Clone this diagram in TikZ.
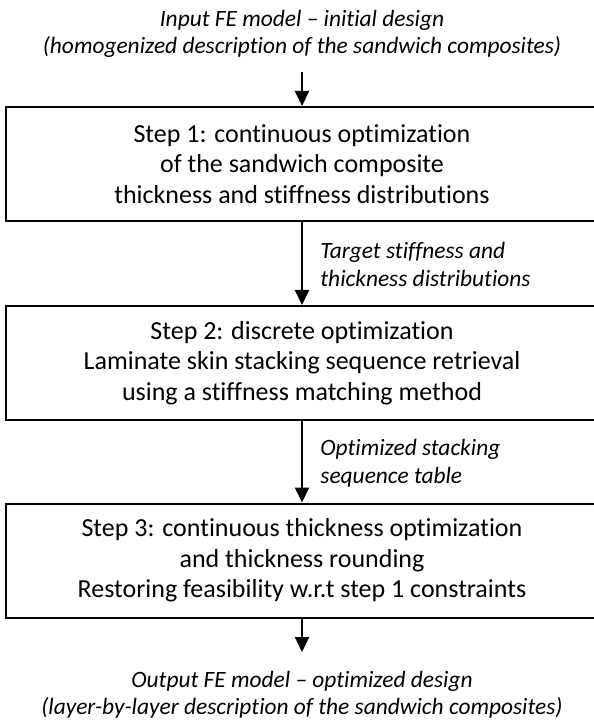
\documentclass[tikz,border=0pt]{standalone}
\usepackage{fontspec}
\setmainfont{Carlito}[Ligatures={TeX,NoCommon}]
\usetikzlibrary{arrows.meta}

\begin{document}
\begin{tikzpicture}[x=0.5pt, y=-0.5pt,
    stepbox/.style={draw, line width=1pt, minimum width=296pt, minimum height=57pt,
        align=center, inner sep=0pt, font=\fontsize{13}{15.2}\selectfont},
    note/.style={align=center, inner sep=0pt, font=\fontsize{11.7}{13.5}\selectfont\itshape},
    remark/.style={align=left, anchor=west, inner sep=0pt, font=\fontsize{11.7}{14}\selectfont\itshape},
    flow/.style={line width=1pt, -{Triangle[width=7pt,length=7.5pt]}}]

    % 1. Page frame
    \useasboundingbox (0,0) rectangle (593,726);

    % 2. Input and output descriptions
    \node[note] (input)  at (302,33.5) {Input FE model -- initial design\\(homogenized description of the sandwich composites)};
    \node[note] (output) at (302,695)  {Output FE model -- optimized design\\(layer-by-layer description of the sandwich composites)};

    % 3. Optimization steps
    \node[stepbox] (step1) at (302,164)   {Step 1: continuous optimization\\of the sandwich composite\\thickness and stiffness distributions};
    \node[stepbox] (step2) at (302,363)   {Step 2: discrete optimization\\Laminate skin stacking sequence retrieval\\using a stiffness matching method};
    \node[stepbox] (step3) at (302,560.5) {Step 3: continuous thickness optimization\\and thickness rounding\\Restoring feasibility w.r.t step 1 constraints};

    % 4. Arrows
    \coordinate (in)  at (302,72);   % below the input text
    \coordinate (out) at (302,652);  % above the output text
    \draw[flow] (in) -- (step1);
    \draw[flow] (step1) -- (step2);
    \draw[flow] (step2) -- (step3);
    \draw[flow] (step3) -- (out);

    % 5. Arrow labels
    \node[remark] (target) at (320,264) {Target stiffness and\\thickness distributions};
    \node[remark] (table)  at (320,463) {Optimized stacking\\sequence table};
\end{tikzpicture}
\end{document}
